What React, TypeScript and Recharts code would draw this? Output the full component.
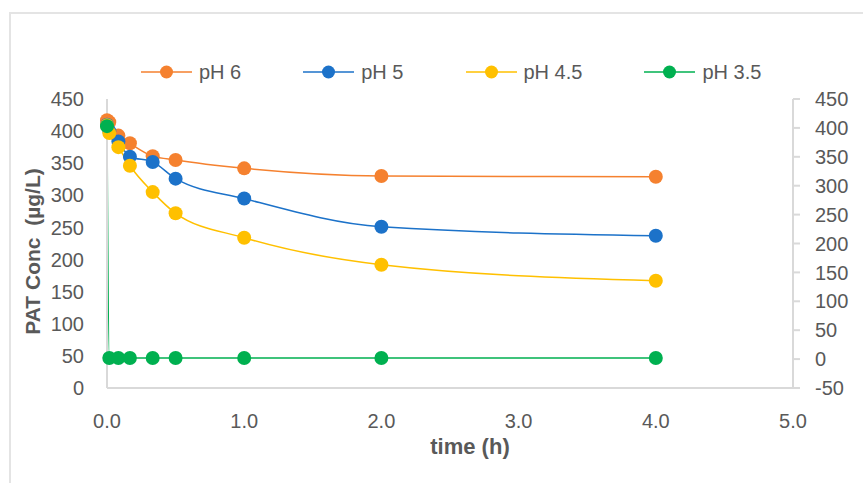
import {
	Label,
	Line,
	LineChart,
	XAxis,
	YAxis,
} from "recharts";

// sampling times (h)
const times = [0, 0.0167, 0.083, 0.167, 0.333, 0.5, 1, 2, 4];

// PAT concentration (µg/L) per pH
const ph6 = [417, 414, 393, 381, 361, 355, 342, 330, 329];
const ph5 = [410, 400, 384, 360, 352, 326, 295, 251, 237];
const ph45 = [409, 397, 375, 346, 305, 272, 234, 192, 167];
// pH 3.5 sits on the secondary axis
const ph35 = [403, 2, 2, 2, 2, 2, 2, 2, 2];

const xTicks = [0, 1, 2, 3, 4, 5];
const leftTicks = [0, 50, 100, 150, 200, 250, 300, 350, 400, 450];
const rightTicks = [-50, 0, 50, 100, 150, 200, 250, 300, 350, 400, 450];

const series = [
	{ key: "ph6", name: "pH 6", color: "#f5812f", axis: "left" },
	{ key: "ph5", name: "pH 5", color: "#1c72c9", axis: "left" },
	{ key: "ph45", name: "pH 4.5", color: "#ffc000", axis: "left" },
	{ key: "ph35", name: "pH 3.5", color: "#00b050", axis: "right" },
];

const data = times.map((t, i) => ({
	t,
	ph6: ph6[i],
	ph5: ph5[i],
	ph45: ph45[i],
	ph35: ph35[i],
}));

const FONT = "'Liberation Sans', Arial, sans-serif";
const GREY = "#595959";
const AXIS = "#d9d9d9";
const tickStyle = { fontSize: 20, fill: GREY, fontFamily: FONT };

function LegendRow() {
	return (
		<div
			style={{
				position: "absolute",
				left: 141,
				top: 60,
				display: "flex",
				gap: 62,
				alignItems: "center",
				fontFamily: FONT,
				fontSize: 20,
				color: GREY,
			}}
		>
			{series.map((s) => (
				<div key={s.key} style={{ display: "flex", alignItems: "center" }}>
					<svg width={51} height={16}>
						<line x1={0} y1={8} x2={51} y2={8} stroke={s.color} strokeWidth={1.5} />
						<circle cx={25.5} cy={8} r={6.5} fill={s.color} />
					</svg>
					<span style={{ marginLeft: 7, lineHeight: "24px" }}>{s.name}</span>
				</div>
			))}
		</div>
	);
}

export default function App() {
	return (
		<div
			style={{
				position: "absolute",
				left: 0,
				top: 0,
				width: 863,
				height: 483,
				overflow: "hidden",
				background: "#fff",
				fontFamily: FONT,
			}}
		>
			<div
				style={{
					position: "absolute",
					left: 9,
					top: 12,
					width: 900,
					height: 520,
					borderTop: "2px solid #e4e4e4",
					borderLeft: "2px solid #e4e4e4",
				}}
			/>
			<LegendRow />
			<LineChart
				width={863}
				height={483}
				data={data}
				margin={{ top: 99, right: 20, bottom: 65, left: 57 }}
				style={{ position: "absolute", left: 0, top: 0 }}
			>
				<XAxis
					dataKey="t"
					type="number"
					domain={[0, 5]}
					ticks={xTicks}
					tickFormatter={(v: number) => v.toFixed(1)}
					tick={tickStyle}
					tickLine={false}
					tickSize={0}
					tickMargin={26}
					axisLine={{ stroke: AXIS, strokeWidth: 2 }}
					height={30}
				>
					<Label
						content={({ viewBox }: any) => (
							<text
								x={viewBox.x + viewBox.width / 2 + 20}
								y={448}
								textAnchor="middle"
								dominantBaseline="middle"
								fontFamily={FONT}
								fontSize={22}
								fontWeight="bold"
								fill={GREY}
							>
								time (h)
							</text>
						)}
					/>
				</XAxis>
				<YAxis
					yAxisId="left"
					domain={[0, 450]}
					ticks={leftTicks}
					tick={tickStyle}
					tickLine={false}
					tickSize={0}
					tickMargin={23}
					axisLine={{ stroke: AXIS, strokeWidth: 2 }}
					width={50}
					interval={0}
				>
					<Label
						content={({ viewBox }: any) => (
							<text
								x={34}
								y={viewBox.y + viewBox.height / 2 + 8}
								textAnchor="middle"
								dominantBaseline="middle"
								transform={`rotate(-90 34 ${viewBox.y + viewBox.height / 2 + 8})`}
								fontFamily={FONT}
								fontSize={21}
								fontWeight="bold"
								fill={GREY}
								style={{ whiteSpace: "pre" }}
							>
								{"PAT Conc  (µg/L)"}
							</text>
						)}
					/>
				</YAxis>
				<YAxis
					yAxisId="right"
					orientation="right"
					domain={[-50, 450]}
					ticks={rightTicks}
					tick={tickStyle}
					tickLine={{ stroke: AXIS, strokeWidth: 2 }}
					tickSize={7}
					tickMargin={15}
					axisLine={{ stroke: AXIS, strokeWidth: 2 }}
					width={50}
					interval={0}
				/>
				{series.map((s) => (
					<Line
						key={s.key}
						yAxisId={s.axis}
						type="monotone"
						dataKey={s.key}
						name={s.name}
						stroke={s.color}
						strokeWidth={1.5}
						dot={{ r: 7, fill: s.color, stroke: "none" }}
						activeDot={false}
						isAnimationActive={false}
					/>
				))}
			</LineChart>
		</div>
	);
}
